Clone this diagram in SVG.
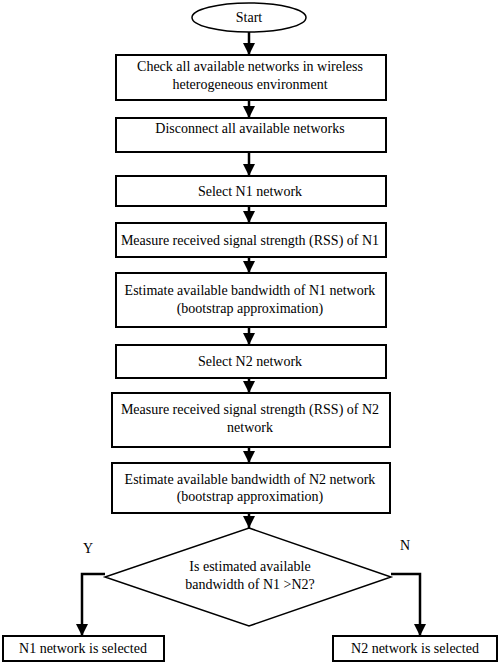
<svg xmlns="http://www.w3.org/2000/svg" width="500" height="666" viewBox="0 0 500 666">
<defs>
<style>
.box{fill:#fff;stroke:#000;stroke-width:2}
.t{font-family:'Liberation Serif','Times New Roman',Times,serif;font-size:14px;fill:#000;text-anchor:middle}
.c{fill:none;stroke:#000;stroke-width:2.5}
</style>
<marker id="ah" viewBox="0 0 12 12" refX="12" refY="6" markerWidth="12" markerHeight="12" markerUnits="userSpaceOnUse" orient="auto">
<path d="M0,0 L12,6 L0,12 Z" fill="#000"/>
</marker>
</defs>
<rect width="500" height="666" fill="#fff"/>
<g id="connectors">
<line class="c" x1="249" y1="32" x2="249" y2="55" marker-end="url(#ah)"/>
<line class="c" x1="249" y1="100" x2="249" y2="118" marker-end="url(#ah)"/>
<line class="c" x1="249" y1="152" x2="249" y2="176" marker-end="url(#ah)"/>
<line class="c" x1="249" y1="206" x2="249" y2="223" marker-end="url(#ah)"/>
<line class="c" x1="249" y1="257" x2="249" y2="273" marker-end="url(#ah)"/>
<line class="c" x1="249" y1="327" x2="249" y2="345" marker-end="url(#ah)"/>
<line class="c" x1="249" y1="378" x2="249" y2="393" marker-end="url(#ah)"/>
<line class="c" x1="249" y1="447" x2="249" y2="463" marker-end="url(#ah)"/>
<line class="c" x1="249" y1="513" x2="249" y2="528" marker-end="url(#ah)"/>
<polyline class="c" points="105,574 82,574 82,636" marker-end="url(#ah)"/>
<polyline class="c" points="391,574 420,574 420,636" marker-end="url(#ah)"/>
</g>
<g id="start">
<ellipse cx="249" cy="17.5" rx="57" ry="14.5" fill="#fff" stroke="#000" stroke-width="1.5"/>
<text class="t" x="249" y="22">Start</text>
</g>
<g id="n1">
<rect class="box" x="116" y="55" width="270" height="45"/>
<text class="t" x="250" y="71">Check all available networks in wireless</text>
<text class="t" x="250" y="89">heterogeneous environment</text>
</g>
<g id="n2">
<rect class="box" x="116" y="118" width="270" height="34"/>
<text class="t" x="250" y="133">Disconnect all available networks</text>
</g>
<g id="n3">
<rect class="box" x="116" y="176" width="270" height="30"/>
<text class="t" x="250" y="196">Select N1 network</text>
</g>
<g id="n4">
<rect class="box" x="116" y="223" width="270" height="34"/>
<text class="t" x="250" y="245">Measure received signal strength (RSS) of N1</text>
</g>
<g id="n5">
<rect class="box" x="116" y="273" width="270" height="54" stroke-width="2.5"/>
<text class="t" x="250" y="295">Estimate available bandwidth of N1 network</text>
<text class="t" x="250" y="313">(bootstrap approximation)</text>
</g>
<g id="n6">
<rect class="box" x="116" y="345" width="270" height="33"/>
<text class="t" x="250" y="366">Select N2 network</text>
</g>
<g id="n7">
<rect class="box" x="112" y="393" width="278" height="54"/>
<text class="t" x="250" y="414">Measure received signal strength (RSS) of N2</text>
<text class="t" x="250" y="432">network</text>
</g>
<g id="n8">
<rect class="box" x="112" y="463" width="278" height="50"/>
<text class="t" x="250" y="484">Estimate available bandwidth of N2 network</text>
<text class="t" x="250" y="501">(bootstrap approximation)</text>
</g>
<g id="decision">
<polygon points="249,528 391,577 249,626 105,577" fill="#fff" stroke="#000" stroke-width="1.5"/>
<text class="t" x="250" y="571">Is estimated available</text>
<text class="t" x="250" y="589">bandwidth of N1 &gt;N2?</text>
</g>
<g id="labels">
<text class="t" x="88" y="553">Y</text>
<text class="t" x="405" y="550">N</text>
</g>
<g id="out1">
<rect class="box" x="3" y="636" width="161" height="25"/>
<text class="t" x="83" y="653">N1 network is selected</text>
</g>
<g id="out2">
<rect class="box" x="333" y="636" width="164" height="25"/>
<text class="t" x="415" y="653">N2 network is selected</text>
</g>
</svg>
